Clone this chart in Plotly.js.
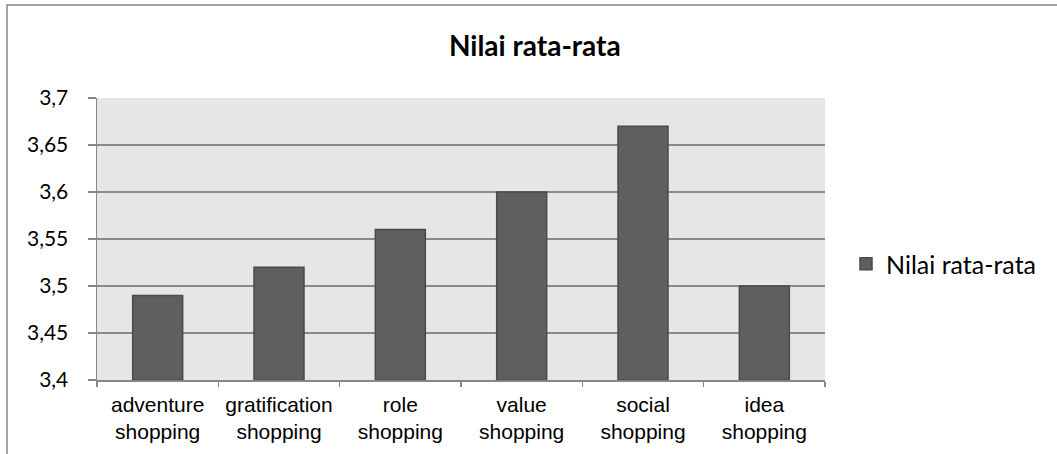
<!DOCTYPE html>
<html>
<head>
<meta charset="utf-8">
<script src="https://cdn.plot.ly/plotly-3.0.1.min.js"></script>
<style>
html,body{margin:0;padding:0;background:#fff;}
#chart{width:1057px;height:454px;}
</style>
</head>
<body>
<div id="chart"></div>
<script>
var categories = ["adventure<br>shopping", "gratification<br>shopping", "role<br>shopping", "value<br>shopping", "social<br>shopping", "idea<br>shopping"];
var values = [3.49, 3.52, 3.56, 3.60, 3.67, 3.50];
var seriesName = "Nilai rata-rata";
var chartTitle = "Nilai rata-rata";
var yTicks = [3.4, 3.45, 3.5, 3.55, 3.6, 3.65, 3.7];
var yTickLabels = ["3,4", "3,45", "3,5", "3,55", "3,6", "3,65", "3,7"];
var yMin = 3.4, yMax = 3.7;

var W = 1057, H = 454;
var mL = 97, mR = 232, mT = 98, mB = 74;
var pw = W - mL - mR, ph = H - mT - mB;
function px2x(p){ return (p - mL) / pw; }
function py2y(p){ return (H - mB - p) / ph; }

var trace = {
  type: 'bar',
  x: categories,
  y: values.map(function(v){ return v - yMin; }),
  base: yMin,
  name: seriesName,
  showlegend: true,
  marker: {color: '#5f5f5f', line: {color: '#4a4a4a', width: 1.5}}
};

var layout = {
  width: W, height: H,
  margin: {l: mL, r: mR, t: mT, b: mB, pad: 0},
  paper_bgcolor: '#ffffff',
  plot_bgcolor: '#e6e6e6',
  separators: ',.',
  title: {text: '<b>' + chartTitle + '</b>', font: {family: 'Lato, "Open Sans", sans-serif', size: 28, color: '#000'}, x: 0.506, xanchor: 'center', y: 1 - 46/H, yanchor: 'middle'},
  bargap: 0.588,
  showlegend: true,
  legend: {x: px2x(846), xanchor: 'left', y: py2y(264), yanchor: 'middle', font: {family: 'Lato, "Open Sans", sans-serif', size: 25, color: '#000'}, bgcolor: 'rgba(0,0,0,0)'},
  xaxis: {
    type: 'category',
    tickfont: {family: '"Liberation Sans", Arial, sans-serif', size: 21, color: '#000'},
    showline: true, linecolor: '#868686', linewidth: 1.5,
    ticks: 'outside', tickson: 'boundaries', ticklen: 5, tickcolor: '#868686', tickwidth: 1.5,
    showgrid: false, fixedrange: true, ticklabelstandoff: 5
  },
  yaxis: {
    range: [yMin, yMax],
    tickmode: 'array', tickvals: yTicks, ticktext: yTickLabels,
    tickfont: {family: 'Lato, "Open Sans", sans-serif', size: 21, color: '#000'},
    showline: true, linecolor: '#868686', linewidth: 1.5,
    ticks: 'outside', ticklen: 8, tickcolor: '#868686', tickwidth: 1.5,
    showgrid: true, gridcolor: '#8a8a8a', gridwidth: 1.5,
    zeroline: false, fixedrange: true, ticklabelstandoff: 15
  },
  shapes: [
    {type: 'path', xref: 'paper', yref: 'paper',
     path: 'M ' + px2x(7) + ' ' + py2y(460) + ' L ' + px2x(7) + ' ' + py2y(5) + ' L ' + px2x(1060) + ' ' + py2y(5),
     line: {color: '#868686', width: 1.5}}
  ]
};
Plotly.newPlot('chart', [trace], layout, {displayModeBar: false, staticPlot: true});
</script>
</body>
</html>
